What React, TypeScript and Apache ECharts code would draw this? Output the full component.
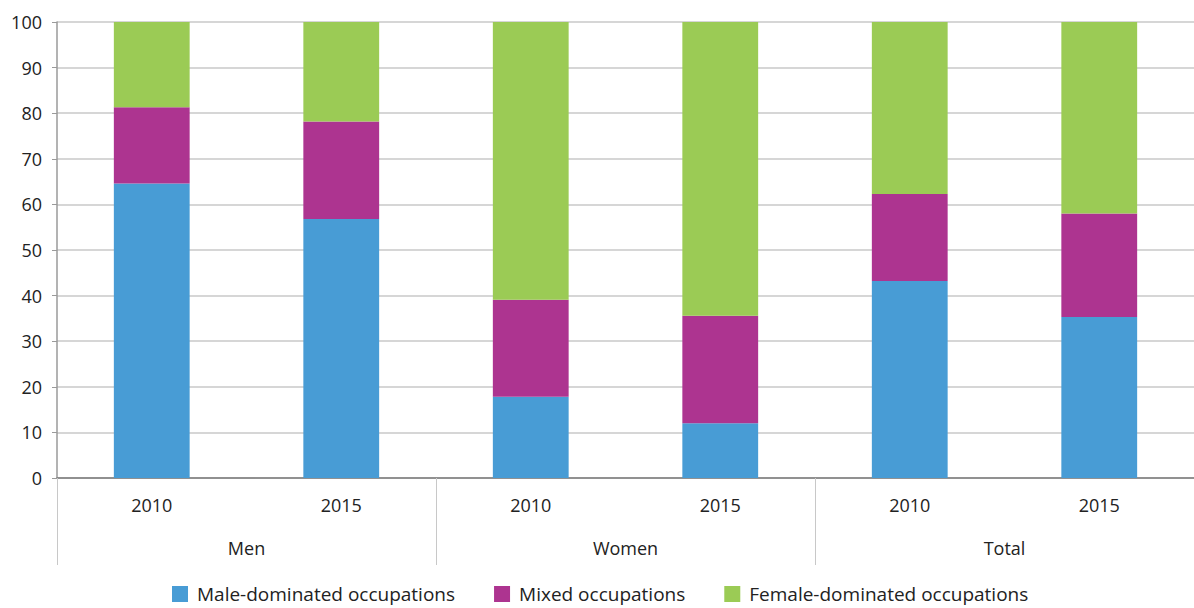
import React, { useEffect, useRef } from "react";
import * as echarts from "echarts";

const years = ["2010", "2015", "2010", "2015", "2010", "2015"];
const groups = ["Men", "Women", "Total"];
const maleDominated = [64.6, 56.8, 17.8, 12.0, 43.2, 35.3];
const mixed = [16.7, 21.4, 21.3, 23.6, 19.1, 22.7];
const femaleDominated = [18.7, 21.8, 60.9, 64.4, 37.7, 42.0];
const seriesNames = ["Male-dominated occupations", "Mixed occupations", "Female-dominated occupations"];
const colors = ["#489cd5", "#ad3490", "#9bcb55"];
const yTicks = { min: 0, max: 100, interval: 10 };

const FONT = "'Open Sans', 'Noto Sans', sans-serif";

export default function App() {
  const ref = useRef<HTMLDivElement>(null);
  useEffect(() => {
    if (!ref.current) return;
    const chart = echarts.init(ref.current, null, { renderer: "svg" });
    const data = [maleDominated, mixed, femaleDominated];
    chart.setOption({
      animation: false,
      textStyle: { fontFamily: FONT },
      grid: { left: 57, right: 0, top: 22, bottom: 130, containLabel: false },
      legend: {
        top: 578,
        left: 167,
        itemWidth: 16,
        itemHeight: 16,
        itemGap: 39,
        icon: "rect",
        textStyle: { fontSize: 19, lineHeight: 22, color: "#222", fontFamily: FONT, padding: [0, 0, 0, 4] },
        data: seriesNames,
      },
      xAxis: [
        {
          type: "category",
          data: years,
          position: "bottom",
          axisLine: { show: true, lineStyle: { color: "#7a7a7a", width: 1.5 } },
          axisTick: { show: false },
          axisLabel: { color: "#222", fontSize: 18, margin: 18, fontFamily: FONT },
          splitLine: { show: false },
        },
        {
          type: "category",
          data: groups,
          position: "bottom",
          offset: 0,
          axisLine: { show: false },
          axisTick: { show: true, length: 87, interval: 0, lineStyle: { color: "#c8c8c8", width: 1 } },
          axisLabel: { color: "#222", fontSize: 18, margin: 61, fontFamily: FONT },
          splitLine: { show: false },
        },
      ],
      yAxis: {
        type: "value",
        min: yTicks.min,
        max: yTicks.max,
        interval: yTicks.interval,
        axisLine: { show: true, lineStyle: { color: "#9a9a9a", width: 1.5 } },
        axisTick: { show: true, length: 5, lineStyle: { color: "#9a9a9a" } },
        axisLabel: { color: "#222", fontSize: 18, margin: 15, fontFamily: FONT },
        splitLine: { show: true, lineStyle: { color: "#c8c8c8", width: 1.5 } },
      },
      series: seriesNames.map((name, i) => ({
        name,
        type: "bar",
        stack: "total",
        xAxisIndex: 0,
        barWidth: "40%",
        itemStyle: { color: colors[i] },
        data: data[i],
      })),
    });
    return () => chart.dispose();
  }, []);
  return <div ref={ref} style={{ width: 1194, height: 608, position: "absolute", left: 0, top: 0 }} />;
}
